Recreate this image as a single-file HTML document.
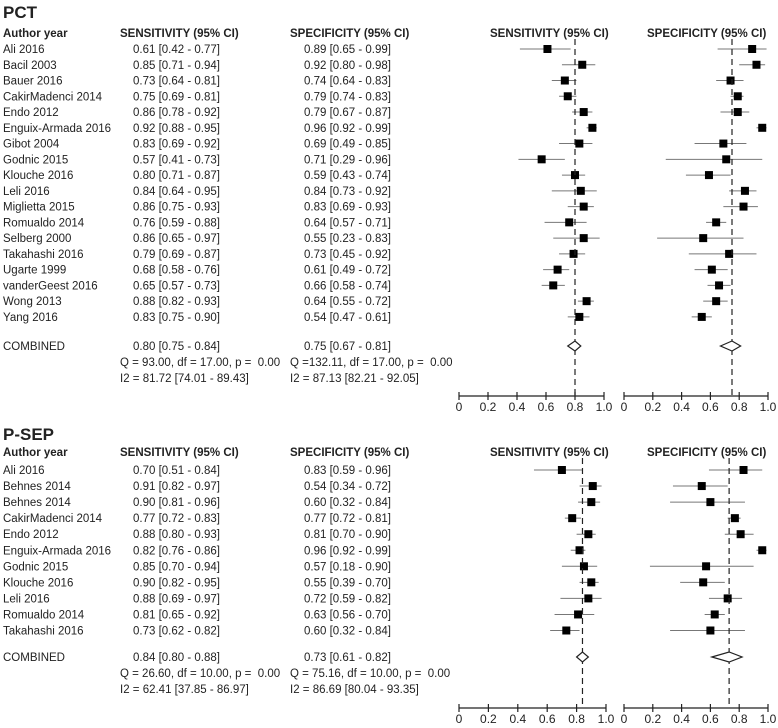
<!DOCTYPE html>
<html><head><meta charset="utf-8"><style>
body{margin:0;background:#fff}
svg{display:block;font-family:"Liberation Sans",Arial,sans-serif}
text{white-space:pre}
.t{font-size:11.5px;fill:#222}
.tk{font-size:12px;fill:#222}
.h{font-size:11.5px;font-weight:bold;fill:#222}
.ti{font-size:17px;font-weight:bold;fill:#222}
</style></head><body>
<svg id="c" width="778" height="728" viewBox="0 0 778 728"></svg>
<script>
const pctStudies=["Ali 2016","Bacil 2003","Bauer 2016","CakirMadenci 2014","Endo 2012","Enguix-Armada 2016","Gibot 2004","Godnic 2015","Klouche 2016","Leli 2016","Miglietta 2015","Romualdo 2014","Selberg 2000","Takahashi 2016","Ugarte 1999","vanderGeest 2016","Wong 2013","Yang 2016"];
const pctSens=[[0.61,0.42,0.77],[0.85,0.71,0.94],[0.73,0.64,0.81],[0.75,0.69,0.81],[0.86,0.78,0.92],[0.92,0.88,0.95],[0.83,0.69,0.92],[0.57,0.41,0.73],[0.80,0.71,0.87],[0.84,0.64,0.95],[0.86,0.75,0.93],[0.76,0.59,0.88],[0.86,0.65,0.97],[0.79,0.69,0.87],[0.68,0.58,0.76],[0.65,0.57,0.73],[0.88,0.82,0.93],[0.83,0.75,0.90]];
const pctSpec=[[0.89,0.65,0.99],[0.92,0.80,0.98],[0.74,0.64,0.83],[0.79,0.74,0.83],[0.79,0.67,0.87],[0.96,0.92,0.99],[0.69,0.49,0.85],[0.71,0.29,0.96],[0.59,0.43,0.74],[0.84,0.73,0.92],[0.83,0.69,0.93],[0.64,0.57,0.71],[0.55,0.23,0.83],[0.73,0.45,0.92],[0.61,0.49,0.72],[0.66,0.58,0.74],[0.64,0.55,0.72],[0.54,0.47,0.61]];
const pctComb=[[0.80,0.75,0.84],[0.75,0.67,0.81]];
const pctStats=[["Q = 93.00, df = 17.00, p =  0.00","I2 = 81.72 [74.01 - 89.43]"],["Q =132.11, df = 17.00, p =  0.00","I2 = 87.13 [82.21 - 92.05]"]];
const psStudies=["Ali 2016","Behnes 2014","Behnes 2014","CakirMadenci 2014","Endo 2012","Enguix-Armada 2016","Godnic 2015","Klouche 2016","Leli 2016","Romualdo 2014","Takahashi 2016"];
const psSens=[[0.70,0.51,0.84],[0.91,0.82,0.97],[0.90,0.81,0.96],[0.77,0.72,0.83],[0.88,0.80,0.93],[0.82,0.76,0.86],[0.85,0.70,0.94],[0.90,0.82,0.95],[0.88,0.69,0.97],[0.81,0.65,0.92],[0.73,0.62,0.82]];
const psSpec=[[0.83,0.59,0.96],[0.54,0.34,0.72],[0.60,0.32,0.84],[0.77,0.72,0.81],[0.81,0.70,0.90],[0.96,0.92,0.99],[0.57,0.18,0.90],[0.55,0.39,0.70],[0.72,0.59,0.82],[0.63,0.56,0.70],[0.60,0.32,0.84]];
const psComb=[[0.84,0.80,0.88],[0.73,0.61,0.82]];
const psStats=[["Q = 26.60, df = 10.00, p =  0.00","I2 = 62.41 [37.85 - 86.97]"],["Q = 75.16, df = 10.00, p =  0.00","I2 = 86.69 [80.04 - 93.35]"]];
const ticks=[0,0.2,0.4,0.6,0.8,1.0];
const tickLabels=["0","0.2","0.4","0.6","0.8","1.0"];

const svg=document.getElementById('c');
const NS='http://www.w3.org/2000/svg';
function mk(tag,a,parent){const e=document.createElementNS(NS,tag);for(const k in a)e.setAttribute(k,a[k]);(parent||svg).appendChild(e);return e;}
function txt(x,y,s,cls,name){const e=mk('text',{x:x,y:y,class:cls});e.textContent=s;


return e;}
const f=v=>v.toFixed(2);
const ci=r=>f(r[0])+" ["+f(r[1])+" - "+f(r[2])+"]";

function panel(o){
  const xs=[v=>o.ax1[0]+v*(o.ax1[1]-o.ax1[0]), v=>o.ax2[0]+v*(o.ax2[1]-o.ax2[0])];
  const rowY=i=>o.y0+i*o.dy;
  txt(3,o.titleY,o.title,'ti','section-title-'+o.key);
  txt(3,o.headY+4,"Author year",'h','author-header');
  txt(120,o.headY+4,"SENSITIVITY (95% CI)",'h','sensitivity-header');
  txt(290,o.headY+4,"SPECIFICITY (95% CI)",'h','specificity-header');
  txt(490,o.headY+4,"SENSITIVITY (95% CI)",'h','sensitivity-plot-header');
  txt(647,o.headY+4,"SPECIFICITY (95% CI)",'h','specificity-plot-header');
  o.studies.forEach((s,i)=>{
    const y=rowY(i);
    txt(3,y+4,s,'t','study-label');
    txt(133,y+4,ci(o.sens[i]),'t','sensitivity-value');
    txt(304,y+4,ci(o.spec[i]),'t','specificity-value');
    [o.sens[i],o.spec[i]].forEach((r,k)=>{
      const X=xs[k];
      const l=mk('line',{x1:X(r[1]),x2:X(r[2]),y1:y,y2:y,stroke:'#777','stroke-width':1});
      
      
      const m=mk('rect',{x:X(r[0])-4,y:y-4,width:8,height:8,fill:'#000'});
      
      
    });
  });
  txt(3,o.combY+4,"COMBINED",'t','combined-label');
  txt(133,o.combY+4,ci(o.comb[0]),'t','combined-sensitivity');
  txt(304,o.combY+4,ci(o.comb[1]),'t','combined-specificity');
  txt(120,o.combY+20,o.stats[0][0],'t','sensitivity-q-stat');
  txt(120,o.combY+36,o.stats[0][1],'t','sensitivity-i2-stat');
  txt(290,o.combY+20,o.stats[1][0],'t','specificity-q-stat');
  txt(290,o.combY+36,o.stats[1][1],'t','specificity-i2-stat');
  [0,1].forEach(k=>{
    const X=xs[k],r=o.comb[k];
    const d=mk('line',{x1:X(r[0]),x2:X(r[0]),y1:o.headY+6,y2:o.axY,stroke:'#222','stroke-width':1.2,'stroke-dasharray':'6,4'});
    
    
    const p=mk('polygon',{points:`${X(r[1])},${o.combY} ${X(r[0])},${o.combY-5} ${X(r[2])},${o.combY} ${X(r[0])},${o.combY+5}`,fill:'#fff',stroke:'#222','stroke-width':1.2});
    
    
    const ax=mk('line',{x1:X(0),x2:X(1),y1:o.axY,y2:o.axY,stroke:'#222','stroke-width':1.2});
    
    
    ticks.forEach((t,j)=>{
      mk('line',{x1:X(t),x2:X(t),y1:o.axY-4,y2:o.axY+4,stroke:'#222','stroke-width':1.2});
      const tl=mk('text',{x:X(t),y:o.axY+15,class:'tk','text-anchor':'middle'});tl.textContent=tickLabels[j];
      
      
    });
  });
}
panel({key:'pct',title:'PCT',titleY:18,headY:33,y0:49,dy:15.76,combY:346,axY:396,ax1:[459,604],ax2:[624,768],studies:pctStudies,sens:pctSens,spec:pctSpec,comb:pctComb,stats:pctStats});
panel({key:'psep',title:'P-SEP',titleY:440,headY:452,y0:470,dy:16.05,combY:657,axY:708,ax1:[459,606],ax2:[624,768],studies:psStudies,sens:psSens,spec:psSpec,comb:psComb,stats:psStats});
</script>
</body></html>
